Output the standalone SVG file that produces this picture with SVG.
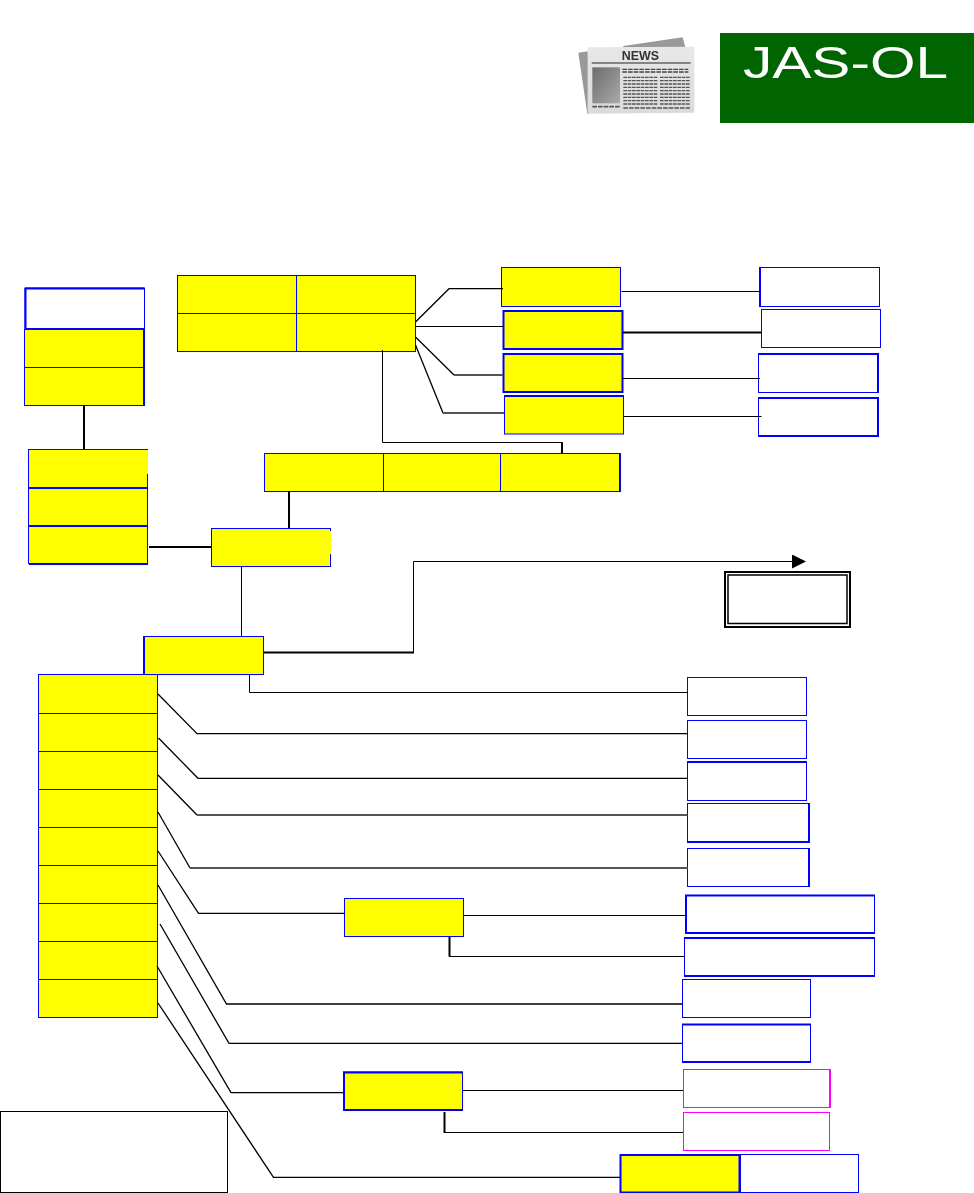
<svg xmlns="http://www.w3.org/2000/svg" width="974" height="1193" viewBox="0 0 974 1193">
<style>
.y{fill:#ff0;stroke:#00f;stroke-width:1}
.w{fill:#fff;stroke:#00f;stroke-width:1}
.p{fill:#fff;stroke:#f0f;stroke-width:1}
.k{fill:#fff;stroke:#000;stroke-width:1}
.e{fill:none;stroke:#00f;stroke-width:2}
.em{fill:none;stroke:#f0f;stroke-width:2}
.c{fill:none;stroke:#000;stroke-width:1}
.c2{fill:none;stroke:#000;stroke-width:2}
.s{fill:none;stroke:#000;stroke-width:1.3}
.g{fill:none;stroke:#555;stroke-width:2}
</style>
<defs>
<filter id="soft" x="-5%" y="-5%" width="110%" height="110%"><feGaussianBlur stdDeviation="0.45"/></filter>
<filter id="softer" x="-5%" y="-5%" width="110%" height="110%"><feGaussianBlur stdDeviation="1.8"/></filter>
<linearGradient id="page" x1="0" y1="0" x2="0" y2="1"><stop offset="0" stop-color="#e8e8e8"/><stop offset="1" stop-color="#dadada"/></linearGradient>
<linearGradient id="photo" x1="0" y1="0" x2="1" y2="1"><stop offset="0" stop-color="#6c6c6c"/><stop offset="1" stop-color="#aaa"/></linearGradient>
<marker id="arrow" markerUnits="userSpaceOnUse" markerWidth="15" markerHeight="14" refX="0" refY="7" orient="auto"><path d="M0 0L14 7L0 14Z" fill="#000"/></marker>
</defs>
<rect width="974" height="1193" fill="#fff"/>

<g id="news-icon" transform="translate(560 20) scale(.33333)" filter="url(#softer)">
<path d="M190 78L368 52L376 82L190 90Z" fill="#999"/>
<path d="M55 98L85 94V282H82Z" fill="#999"/>
<path d="M83 82L403 80V278L83 281Z" fill="url(#page)"/>
<text x="185" y="120" font-family="'Liberation Sans',sans-serif" font-weight="700" font-size="41" fill="#333" textLength="112" lengthAdjust="spacingAndGlyphs">NEWS</text>
<path d="M95 129H392" stroke="#666" stroke-width="5" fill="none"/>
<rect x="97" y="142" width="83" height="108" fill="url(#photo)"/>
<path d="M187 148H385M187 156H385" stroke="#444" stroke-width="4" stroke-dasharray="14 3" fill="none"/>
<path d="M190 172H292M190 182H292M190 192H292M190 202H292M190 212H292M190 222H292M190 232H292M190 242H292M190 252H292M300 172H390M300 182H390M300 192H390M300 202H390M300 212H390M300 222H390M300 232H390M300 242H390M300 252H390" stroke="#555" stroke-width="4" stroke-dasharray="11 2" fill="none"/>
<path d="M97 260H180M190 264H390" stroke="#555" stroke-width="5" stroke-dasharray="14 3" fill="none"/>
</g>

<g id="logo">
<rect x="720" y="33" width="254" height="90" fill="#006400"/>
<text x="743" y="78" font-family="'Liberation Sans',sans-serif" font-size="44" fill="#fff" textLength="205" lengthAdjust="spacingAndGlyphs" filter="url(#soft)">JAS-OL</text>
</g>

<g id="stack-a">
<rect class="w" x="25" y="288" width="119.5" height="41"/>
<path class="e" d="M25 288.500H144M25 329H144M25.500 288V329"/>
<rect class="y" x="24.500" y="329.500" width="119" height="38"/>
<rect class="y" x="24.500" y="367.500" width="119" height="38"/>
<path class="e" d="M144 329V406"/>
</g>

<g id="grid-top">
<rect class="y" x="177.500" y="275.500" width="119" height="38"/>
<rect class="y" x="296.500" y="275.500" width="119" height="38"/>
<rect class="y" x="177.500" y="313.500" width="119" height="38"/>
<rect class="y" x="296.500" y="313.500" width="119" height="38"/>
</g>

<g id="stack-b">
<rect class="y" x="28.500" y="449.500" width="119" height="38"/>
<rect class="y" x="28.500" y="487.500" width="119" height="38"/>
<rect class="y" x="28.500" y="525.500" width="119" height="38"/>
<path class="e" d="M29 488H148M29 526H148M29 564H148"/>
<rect x="146" y="450" width="2" height="24" fill="#ff0"/>
</g>

<g id="row-mid">
<rect class="y" x="264.500" y="453.500" width="119" height="38"/>
<rect class="y" x="383.500" y="453.500" width="117" height="38"/>
<rect class="y" x="500.500" y="453.500" width="119" height="38"/>
<path class="e" d="M620 453V492" />
</g>

<g id="hub">
<rect class="y" x="211.500" y="528.500" width="119" height="38"/>
<rect x="329" y="531" width="2" height="23" fill="#ff0"/>
</g>

<g id="t1"><rect class="y" x="501.500" y="267.500" width="119" height="39"/></g>
<g id="t2"><rect class="y" x="503.500" y="311" width="119" height="38" style="stroke-width:2"/></g>
<g id="t3"><rect class="y" x="503.500" y="354" width="119" height="38" style="stroke-width:2"/></g>
<g id="t4"><rect class="y" x="504.500" y="396.500" width="119" height="37.500"/><path class="e" d="M504 396H624"/></g>

<g id="r1"><rect class="w" x="760.500" y="267.500" width="119" height="39"/><path class="e" d="M760 267V307"/></g>
<g id="r2"><rect class="w" x="761.500" y="309.500" width="119" height="38"/></g>
<g id="r3"><rect class="w" x="758.500" y="354" width="120" height="38.500"/><path class="e" d="M758 354H879M878 353V393"/></g>
<g id="r4"><rect class="w" x="758.500" y="398" width="120" height="38"/><path class="e" d="M758 398H879M878 397V437M758 436H879"/></g>

<g id="note-double">
<rect x="725" y="572" width="125" height="55" fill="#fff" stroke="#000" stroke-width="2"/>
<rect x="728" y="575" width="119" height="48.500" fill="#fff" stroke="#000" stroke-width="1.500"/>
</g>

<g id="main"><rect class="y" x="144.500" y="636.500" width="119" height="38"/><path class="e" d="M144 636V675"/></g>

<g id="list">
<rect class="y" x="38.500" y="674.500" width="119" height="39"/>
<rect class="y" x="38.500" y="713.500" width="119" height="38"/>
<rect class="y" x="38.500" y="751.500" width="119" height="38"/>
<rect class="y" x="38.500" y="789.500" width="119" height="38"/>
<rect class="y" x="38.500" y="827.500" width="119" height="38"/>
<rect class="y" x="38.500" y="865.500" width="119" height="38"/>
<rect class="y" x="38.500" y="903.500" width="119" height="38"/>
<rect class="y" x="38.500" y="941.500" width="119" height="38"/>
<rect class="y" x="38.500" y="979.500" width="119" height="38"/>
</g>

<g id="b1"><rect class="w" x="687.500" y="677.500" width="119" height="38"/></g>
<g id="b2"><rect class="w" x="687.500" y="720.500" width="119" height="38"/></g>
<g id="b3"><rect class="w" x="687.500" y="762" width="119" height="38.500"/><path class="e" d="M687 762H807"/></g>
<g id="b4"><rect class="w" x="687.500" y="803.500" width="121" height="38"/><path class="e" d="M809 803V843M687 842H810"/></g>
<g id="b5"><rect class="w" x="687.500" y="848.500" width="121" height="38"/><path class="e" d="M809 848V887"/></g>

<g id="m1"><rect class="y" x="344.500" y="898.500" width="119" height="38"/></g>
<g id="n1"><rect class="w" x="686" y="895.500" width="188.500" height="37.500"/><path class="e" d="M685 895.500H875M686 895V934M685 933H875"/></g>
<g id="n2"><rect class="w" x="684.500" y="938" width="190" height="38"/><path class="e" d="M684 938H875M684 976H875"/></g>
<g id="n3"><rect class="w" x="682.500" y="979.500" width="128" height="38"/></g>
<g id="n4"><rect class="w" x="682.500" y="1024.500" width="128" height="37"/><path class="e" d="M682 1024.500H811M682 1062H811"/></g>
<g id="m2"><rect class="y" x="343.500" y="1072" width="119" height="38" style="stroke-width:1"/><path class="e" d="M343 1072.500H463M343 1110H463M344 1072V1111"/></g>
<g id="p1"><rect class="p" x="683.500" y="1069.500" width="146" height="38"/><path class="em" d="M830 1069V1108"/></g>
<g id="p2"><rect class="p" x="683.500" y="1112.500" width="146" height="38"/></g>
<g id="last-y"><rect class="y" x="620.500" y="1155" width="119" height="37.500" style="stroke-width:2"/></g>
<g id="last-w"><rect class="w" x="740.500" y="1154.500" width="118" height="38"/></g>

<g id="legend"><rect class="k" x="0.500" y="1111.500" width="227" height="81"/></g>

<g id="connectors">
<path class="c2" d="M84 405V449"/>
<path class="c2" d="M149 547H211"/>
<path class="c2" d="M289 491V528"/>
<path class="c" d="M241.500 566V636"/>
<path class="c" d="M382.500 350V442.500H562"/>
<path class="c2" d="M562 442V453"/>
<path class="s" d="M415.500 322L449 288.700H503"/>
<path class="c" d="M415 326.500H503"/>
<path class="s" d="M415.500 337L454 375"/><path class="g" d="M454 375H503"/>
<path class="s" d="M415.500 345L443 413"/><path class="g" d="M443 413H504"/>
<path class="c" d="M621.500 291.500H760"/>
<path class="c2" d="M623 332.500H761"/>
<path class="c" d="M622 378.500H760"/>
<path class="c" d="M624 416.500H761.500"/>
<path class="c2" d="M264 652.500H414"/>
<path class="c" d="M413.500 653V561.500H792" marker-end="url(#arrow)"/>
<path class="c" d="M249.500 675V692.500H688"/>
<path class="s" d="M158 694L197 733.700H687.500"/>
<path class="s" d="M158.500 738L198 778.300H688"/>
<path class="s" d="M158 775L197 815"/><path class="g" d="M197 815H687.500"/>
<path class="s" d="M158 812L190 868"/><path class="g" d="M190 868H688"/>
<path class="s" d="M158 851L198.500 913.300H345"/>
<path class="c" d="M464 915.500H686.500"/>
<path class="c2" d="M449.500 937V956.500"/><path class="c" d="M449 956.500H685"/>
<path class="s" d="M158 885L226.500 1004H683"/>
<path class="s" d="M160 924L229 1043.400H683"/>
<path class="s" d="M157 966L231 1092.600H343"/>
<path class="c" d="M463 1090.500H683"/>
<path class="c2" d="M444.500 1112V1133"/><path class="c" d="M444 1132.500H683"/>
<path class="s" d="M158 1003L273.500 1177.400H620"/>
</g>
</svg>
